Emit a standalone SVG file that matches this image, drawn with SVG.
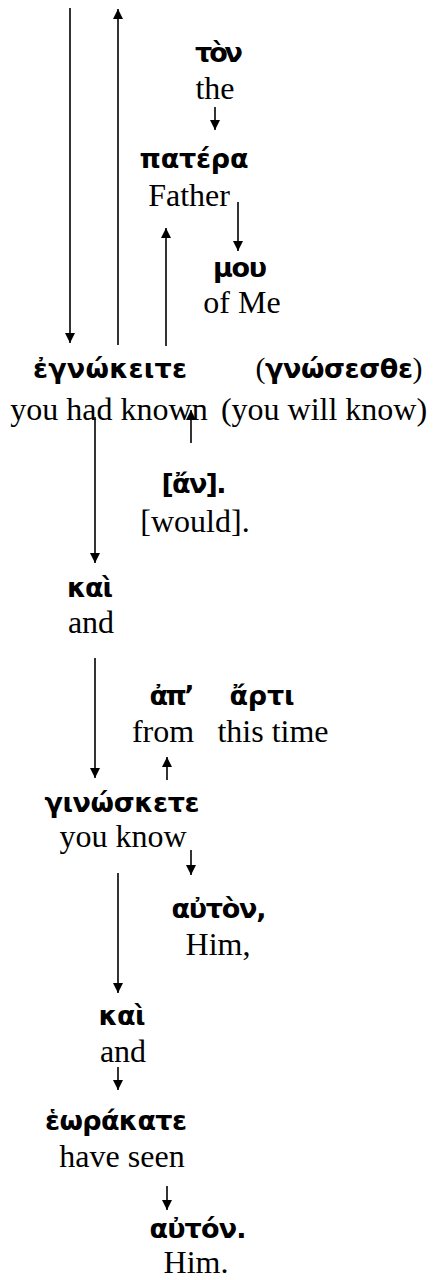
<svg xmlns="http://www.w3.org/2000/svg" width="435" height="1280" viewBox="0 0 435 1280">
<style>
.g{font-family:"DejaVu Sans","Noto Sans",sans-serif;font-weight:bold;font-size:27px;fill:#000;text-anchor:middle}
.e{font-family:"Liberation Serif","Times New Roman",serif;font-size:32px;fill:#000;text-anchor:middle}
.p{font-family:"Liberation Serif","Times New Roman",serif;font-weight:normal;font-size:30px}
.c line{stroke:#000;stroke-width:1.6;fill:none}
</style>
<defs>
<marker id="ah" viewBox="0 0 10 12" refX="10" refY="6" markerWidth="11" markerHeight="12" markerUnits="userSpaceOnUse" orient="auto">
<path d="M0,1 L10,6 L0,11 Z" fill="#000"/>
</marker>
</defs>
<rect width="435" height="1280" fill="#fff"/>
<g class="c" id="connectors">
<line x1="70" y1="8" x2="70" y2="343" marker-end="url(#ah)"/>
<line x1="118" y1="345" x2="118" y2="9" marker-end="url(#ah)"/>
<line x1="166" y1="346" x2="166" y2="228" marker-end="url(#ah)"/>
<line x1="215" y1="107" x2="215" y2="130" marker-end="url(#ah)"/>
<line x1="238" y1="202" x2="238" y2="251" marker-end="url(#ah)"/>
<line x1="95" y1="417" x2="95" y2="563" marker-end="url(#ah)"/>
<line x1="191" y1="443" x2="191" y2="410" marker-end="url(#ah)"/>
<line x1="95" y1="658" x2="95" y2="778" marker-end="url(#ah)"/>
<line x1="167" y1="780" x2="167" y2="757" marker-end="url(#ah)"/>
<line x1="191" y1="850" x2="191" y2="875" marker-end="url(#ah)"/>
<line x1="118" y1="873" x2="118" y2="993" marker-end="url(#ah)"/>
<line x1="118" y1="1067" x2="118" y2="1090" marker-end="url(#ah)"/>
<line x1="167" y1="1186" x2="167" y2="1210" marker-end="url(#ah)"/>
</g>
<g id="n-ton"><text class="g" x="219" y="62" textLength="48">τὸν</text><text class="e" x="215" y="99">the</text></g>
<g id="n-patera"><text class="g" x="194" y="168" textLength="109">πατέρα</text><text class="e" x="189" y="206">Father</text></g>
<g id="n-mou"><text class="g" x="240" y="277" textLength="54">μου</text><text class="e" x="242" y="313">of Me</text></g>
<g id="n-egnokeite"><text class="g" x="110" y="378" textLength="154">ἐγνώκειτε</text><text class="e" x="109" y="420">you had known</text></g>
<g id="n-gnosesthe"><text class="g" x="339" y="378" textLength="167"><tspan class="p">(</tspan>γνώσεσθε<tspan class="p">)</tspan></text><text class="e" x="324" y="420">(you will know)</text></g>
<g id="n-an"><text class="g" x="194" y="493" textLength="65">[ἄν].</text><text class="e" x="195" y="532">[would].</text></g>
<g id="n-kai1"><text class="g" x="90" y="597" textLength="46">καὶ</text><text class="e" x="91" y="633">and</text></g>
<g id="n-ap"><text class="g" x="172" y="705" textLength="45">ἀπ’</text><text class="e" x="163" y="742">from</text></g>
<g id="n-arti"><text class="g" x="262" y="705" textLength="65">ἄρτι</text><text class="e" x="273" y="742">this time</text></g>
<g id="n-ginoskete"><text class="g" x="122" y="812" textLength="155">γινώσκετε</text><text class="e" x="123" y="847">you know</text></g>
<g id="n-auton1"><text class="g" x="219" y="918" textLength="95">αὐτὸν,</text><text class="e" x="218" y="955">Him,</text></g>
<g id="n-kai2"><text class="g" x="122" y="1025" textLength="47">καὶ</text><text class="e" x="123" y="1062">and</text></g>
<g id="n-eorakate"><text class="g" x="116" y="1130" textLength="142">ἑωράκατε</text><text class="e" x="122" y="1167">have seen</text></g>
<g id="n-auton2"><text class="g" x="198" y="1238" textLength="97">αὐτόν.</text><text class="e" x="196" y="1273">Him.</text></g>
</svg>
